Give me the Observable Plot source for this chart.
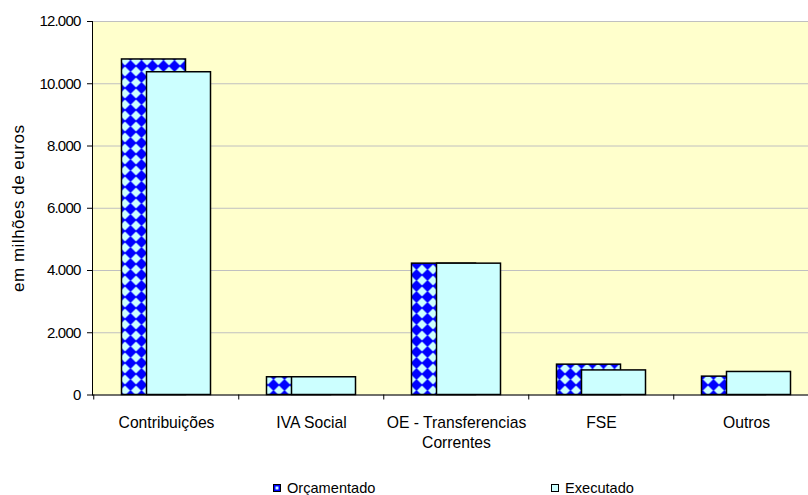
<!DOCTYPE html>
<html>
<head>
<meta charset="utf-8">
<script src="https://cdn.jsdelivr.net/npm/d3@7"></script>
<script src="https://cdn.jsdelivr.net/npm/@observablehq/plot@0.6"></script>
<style>
  body { margin: 0; background: #ffffff; font-family: "Liberation Sans", Arial, sans-serif; }
  #chart { width: 808px; }
  #legend { position: relative; width: 808px; height: 25px; font-size: 14.6px; color: #000; }
  #legend .item { position: absolute; top: 10px; display: flex; align-items: center; white-space: nowrap; }
  #legend svg { margin-right: 6px; }
</style>
</head>
<body>
<div id="chart"></div>
<div id="legend"></div>
<script>
// Receitas da Segurança Social: orçamentado vs executado (milhões de euros)
const categories = ["Contribuições", "IVA Social", "OE - Transferencias\nCorrentes", "FSE", "Outros"];
const orcamentado = [10780, 570, 4220, 975, 590];
const executado = [10370, 570, 4220, 790, 740];
const seriesNames = ["Orçamentado", "Executado"];
const yTicks = [0, 2000, 4000, 6000, 8000, 10000, 12000];
const yTitle = "em milhões de euros";

const rowsOrc = categories.map((c, i) => ({category: c, value: orcamentado[i]}));
const rowsExe = categories.map((c, i) => ({category: c, value: executado[i]}));

const step = 145.5;          // width of one category slot in pixels
const left = 92;
const fmt = d => d3.format(",")(d).replace(/,/g, ".");

const svg = Plot.plot({
  width: 808,
  height: 470,
  marginLeft: left,
  marginRight: 0,
  marginTop: 21,
  marginBottom: 75.5,
  style: {fontFamily: "'Liberation Sans', Arial, sans-serif", background: "#ffffff", color: "#000", overflow: "visible"},
  x: {domain: categories, range: [left, left + categories.length * step], paddingInner: 0.56, paddingOuter: 0.28, axis: null},
  y: {domain: [0, 12000], axis: null, label: null},
  marks: [
    Plot.frame({fill: "#ffffcc", stroke: null}),
    Plot.gridY(yTicks, {stroke: "#c0c0c0", strokeOpacity: 1, strokeWidth: 1}),
    Plot.barY(rowsOrc, {x: "category", y: "value", fill: "url(#checker)", stroke: "#000", strokeWidth: 1.5, dx: -12.5}),
    Plot.barY(rowsExe, {x: "category", y: "value", fill: "#ccffff", stroke: "#000", strokeWidth: 1.5, dx: 12.5}),
    Plot.frame({anchor: "left", stroke: "#000"}),
    Plot.frame({anchor: "bottom", stroke: "#000"}),
    Plot.axisY(yTicks, {tickSize: 5, tickPadding: 7, tickFormat: fmt, fontSize: 15, stroke: "#000", label: null}),
    // category separators below the baseline
    Plot.ruleX(categories, {x: d => d, dx: -step / 2, insetTop: 373.5, insetBottom: -5, stroke: "#000"}),
    Plot.text(categories, {x: d => d, frameAnchor: "bottom", dy: 18.5, lineAnchor: "top", lineHeight: 1.28, fontSize: 15.7, fill: "#000"}),
    Plot.text([yTitle], {frameAnchor: "left", dx: -74, rotate: -90, textAnchor: "middle", fontSize: 17, fill: "#000"})
  ]
});

// diamond checker fill for the budget series
const defs = d3.select(svg).insert("defs", ":first-child");
const pat = defs.append("pattern")
  .attr("id", "checker")
  .attr("patternUnits", "userSpaceOnUse")
  .attr("width", 11).attr("height", 11);
pat.append("rect").attr("width", 11).attr("height", 11).attr("fill", "#0000ff");
pat.append("path").attr("d", "M5.5,0.5 L10.5,5.5 L5.5,10.5 L0.5,5.5 Z").attr("fill", "#ccffff");

d3.select(svg).selectAll('g[aria-label="y-axis tick label"] text').style("letter-spacing", "-0.8px");
d3.select(svg).selectAll("text").filter(function() { return this.textContent === yTitle; }).style("letter-spacing", "0.5px");

document.getElementById("chart").append(svg);

// legend below the chart
const legend = d3.select("#legend");
const items = [
  {name: seriesNames[0], left: 273, kind: "orc"},
  {name: seriesNames[1], left: 551, kind: "exe"}
];
items.forEach(it => {
  const div = legend.append("div").attr("class", "item").style("left", it.left + "px");
  const s = div.append("svg").attr("width", 8).attr("height", 8);
  if (it.kind === "orc") {
    s.append("rect").attr("x", 0.5).attr("y", 0.5).attr("width", 7).attr("height", 7).attr("fill", "#0000ff").attr("stroke", "#000");
    s.append("rect").attr("x", 2.5).attr("y", 2.5).attr("width", 3).attr("height", 3).attr("fill", "#ccffff");
  } else {
    s.append("rect").attr("x", 0.5).attr("y", 0.5).attr("width", 7).attr("height", 7).attr("fill", "#ccffff").attr("stroke", "#000");
  }
  div.append("span").text(it.name);
});
</script>
</body>
</html>
